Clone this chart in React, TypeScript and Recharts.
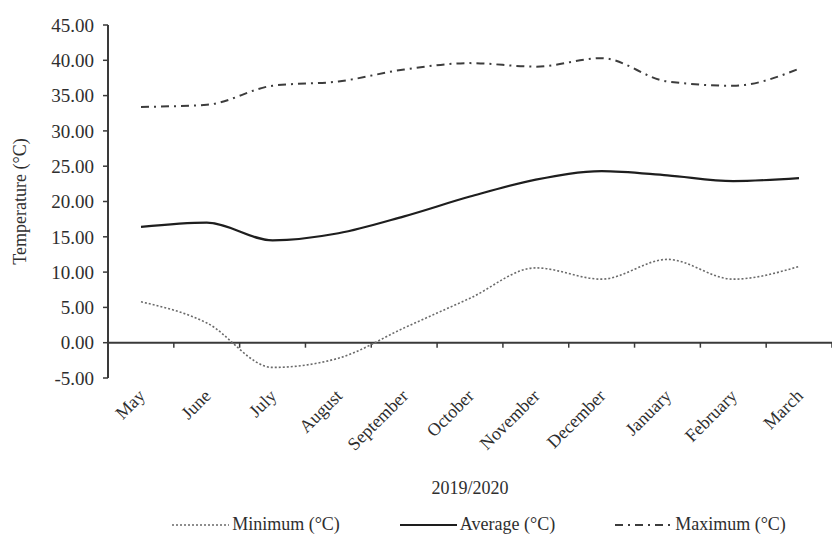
import { Legend, Line, LineChart, ReferenceLine, XAxis, YAxis } from "recharts";

const months = ["May", "June", "July", "August", "September", "October", "November", "December", "January", "February", "March"];
const minimum = [5.8, 2.8, -3.5, -2.2, 2.1, 6.3, 10.6, 9.0, 11.8, 9.0, 10.8];
const average = [16.4, 17.0, 14.5, 15.5, 17.9, 20.7, 23.1, 24.3, 23.7, 22.9, 23.3];
const maximum = [33.4, 33.7, 36.4, 37.0, 38.7, 39.6, 39.1, 40.3, 37.0, 36.4, 38.8];
const yTicks = [-5, 0, 5, 10, 15, 20, 25, 30, 35, 40, 45];

const data = months.map((m, i) => ({ month: m, min: minimum[i], avg: average[i], max: maximum[i] }));

const FONT = "Liberation Serif, Times New Roman, serif";
const AXIS = "#3a3a3a";
const TEXT = "#2e2e2e";

const series = [
  { key: "min", name: "Minimum (°C)", stroke: "#6a6a6a", width: 1.6, dash: "2 2" },
  { key: "avg", name: "Average (°C)", stroke: "#1e1e1e", width: 2.2, dash: undefined },
  { key: "max", name: "Maximum (°C)", stroke: "#3c3c3c", width: 2, dash: "8 5 2 5" },
];

function MonthTick({ x, y, payload }: any) {
  return (
    <text
      x={x + 5}
      y={y + 19}
      transform={`rotate(-45 ${x + 5} ${y + 19})`}
      textAnchor="end"
      fill={TEXT}
      fontSize={18}
      fontFamily={FONT}
    >
      {payload.value}
    </text>
  );
}

// zero line acting as the category axis, with tick marks between categories
function ZeroAxis(props: any) {
  const { x1, x2, y1 } = props;
  const step = (x2 - x1) / months.length;
  return (
    <g>
      <line x1={x1} x2={x2} y1={y1} y2={y1} stroke={AXIS} strokeWidth={2} />
      {months.map((_, i) => (
        <line key={i} x1={x1 + step * (i + 1)} x2={x1 + step * (i + 1)} y1={y1} y2={y1 + 5} stroke={AXIS} strokeWidth={1.5} />
      ))}
    </g>
  );
}

function LegendRow() {
  return (
    <div style={{ display: "flex", justifyContent: "center", gap: 60, fontFamily: FONT, fontSize: 18, color: TEXT, paddingLeft: 126 }}>
      {series.map((s) => (
        <div key={s.key} style={{ display: "flex", alignItems: "center" }}>
          <svg width={57} height={10}>
            <line x1={0} x2={57} y1={5} y2={5} stroke={s.stroke} strokeWidth={s.width} strokeDasharray={s.dash} />
          </svg>
          <span style={{ marginLeft: 3 }}>{s.name}</span>
        </div>
      ))}
    </div>
  );
}

export default function App() {
  return (
    <div style={{ position: "absolute", left: 0, top: 0, width: 832, height: 539, background: "#fff" }}>
      <LineChart width={832} height={539} data={data} margin={{ top: 25, right: 0, bottom: 4, left: 0 }}>
        <XAxis
          dataKey="month"
          axisLine={false}
          tickLine={false}
          tickSize={0}
          tickMargin={0}
          interval={0}
          height={136}
          padding={{ left: 33, right: 33 }}
          tick={<MonthTick />}
          label={{ value: "2019/2020", position: "insideBottom", offset: 20, fill: TEXT, fontSize: 18, fontFamily: FONT }}
        />
        <YAxis
          domain={[-5, 45]}
          ticks={yTicks}
          interval={0}
          width={108}
          tickFormatter={(v: number) => v.toFixed(2)}
          tick={{ fill: TEXT, fontSize: 19, fontFamily: FONT }}
          axisLine={{ stroke: AXIS, strokeWidth: 2 }}
          tickLine={{ stroke: AXIS, strokeWidth: 1.5 }}
          tickSize={5}
          tickMargin={9}
          label={{ value: "Temperature (°C)", angle: -90, position: "insideLeft", offset: 20, fill: TEXT, fontSize: 18, fontFamily: FONT, style: { textAnchor: "middle" } }}
        />
        <ReferenceLine y={0} shape={<ZeroAxis />} />
        {series.map((s) => (
          <Line
            key={s.key}
            type="monotone"
            dataKey={s.key}
            name={s.name}
            stroke={s.stroke}
            strokeWidth={s.width}
            strokeDasharray={s.dash}
            dot={false}
            activeDot={false}
            isAnimationActive={false}
          />
        ))}
        <Legend verticalAlign="bottom" content={<LegendRow />} />
      </LineChart>
    </div>
  );
}
